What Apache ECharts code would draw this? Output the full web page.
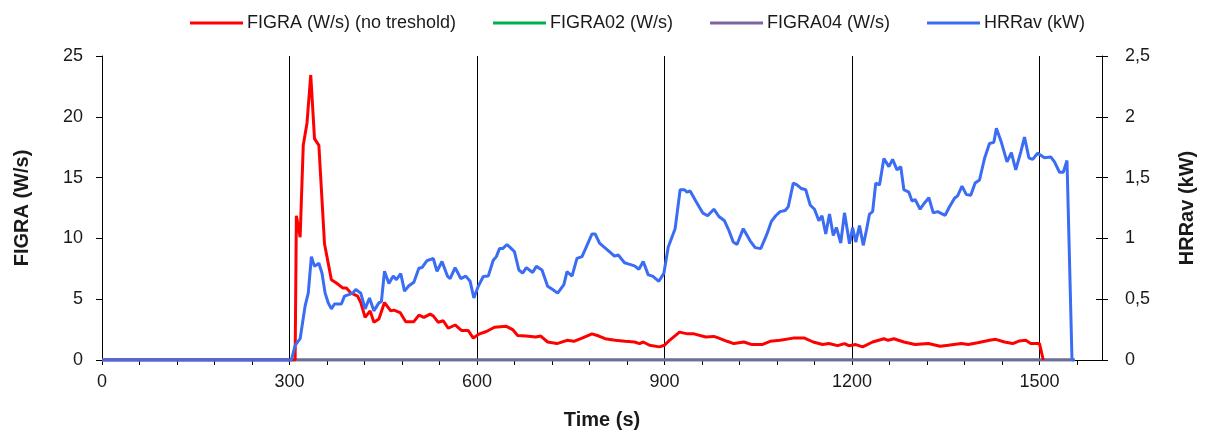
<!DOCTYPE html>
<html>
<head>
<meta charset="utf-8">
<script src="https://cdn.jsdelivr.net/npm/echarts@6/dist/echarts.min.js"></script>
<style>
html,body{margin:0;padding:0;background:#fff;}
#chart{width:1205px;height:435px;}
</style>
</head>
<body>
<div id="chart"></div>
<script>
// ---- Data ----
const seriesNames = ['FIGRA (W/s) (no treshold)', 'FIGRA02 (W/s)', 'FIGRA04 (W/s)', 'HRRav (kW)'];

const figraTime = [0, 309, 311, 313, 317, 322, 328, 334, 337, 340, 347, 356, 367, 375, 385, 391, 398, 409, 414, 421, 429, 435, 443, 452, 462, 467, 477, 486, 499, 507, 515, 525, 530, 538, 546, 554, 565, 575, 586, 594, 604, 615, 628, 647, 657, 665, 678, 694, 702, 713, 728, 744, 755, 768, 784, 795, 805, 821, 837, 852, 860, 866, 876, 892, 900, 908, 924, 937, 947, 966, 979, 987, 1000, 1011, 1027, 1040, 1056, 1069, 1085, 1106, 1124, 1138, 1153, 1163, 1177, 1188, 1195, 1206, 1217, 1233, 1251, 1258, 1267, 1283, 1301, 1322, 1341, 1354, 1375, 1386, 1401, 1420, 1430, 1444, 1457, 1467, 1478, 1486, 1500, 1506];
const figraVals = [0, 0, 11.86, 11.86, 10.1, 17.65, 19.5, 23.44, 23.44, 18.2, 17.65, 9.56, 6.6, 6.33, 5.93, 5.93, 5.52, 5.25, 4.72, 3.5, 4.04, 3.1, 3.37, 4.72, 4.04, 4.1, 3.9, 3.15, 3.15, 3.69, 3.5, 3.77, 3.63, 3.1, 3.23, 2.61, 2.88, 2.43, 2.43, 1.8, 2.15, 2.34, 2.69, 2.77, 2.5, 2.02, 1.97, 1.89, 1.97, 1.48, 1.35, 1.62, 1.54, 1.8, 2.15, 1.97, 1.75, 1.62, 1.54, 1.48, 1.35, 1.48, 1.21, 1.08, 1.21, 1.62, 2.29, 2.15, 2.15, 1.89, 1.94, 1.8, 1.54, 1.35, 1.48, 1.27, 1.27, 1.54, 1.62, 1.8, 1.8, 1.48, 1.27, 1.35, 1.18, 1.35, 1.18, 1.27, 1.08, 1.48, 1.75, 1.62, 1.75, 1.48, 1.27, 1.35, 1.13, 1.21, 1.35, 1.27, 1.42, 1.62, 1.7, 1.48, 1.35, 1.56, 1.62, 1.35, 1.35, 0];

const figra02Time = [0, 1556];
const figra02Vals = [0, 0];
const figra04Time = [0, 1556];
const figra04Vals = [0, 0];

const hrrTime = [0, 303, 309, 317, 325, 330, 335, 340, 347, 352, 357, 362, 367, 372, 383, 388, 396, 401, 406, 414, 421, 428, 431, 435, 443, 447, 452, 459, 466, 471, 478, 484, 491, 499, 507, 512, 520, 530, 536, 544, 553, 557, 565, 574, 582, 589, 595, 602, 610, 618, 626, 631, 636, 641, 648, 655, 660, 667, 673, 679, 689, 695, 704, 713, 721, 729, 739, 744, 752, 760, 768, 776, 784, 789, 796, 802, 810, 820, 826, 836, 842, 852, 859, 866, 874, 881, 891, 899, 906, 917, 925, 932, 936, 941, 950, 961, 969, 972, 979, 987, 996, 1003, 1010, 1016, 1026, 1029, 1037, 1045, 1054, 1064, 1071, 1078, 1085, 1093, 1098, 1106, 1112, 1119, 1126, 1133, 1140, 1147, 1152, 1158, 1164, 1170, 1175, 1182, 1188, 1196, 1201, 1206, 1212, 1218, 1223, 1228, 1233, 1238, 1244, 1251, 1259, 1265, 1272, 1278, 1283, 1291, 1296, 1301, 1309, 1315, 1323, 1330, 1337, 1349, 1356, 1364, 1369, 1376, 1383, 1390, 1397, 1404, 1412, 1420, 1427, 1431, 1439, 1448, 1455, 1462, 1470, 1476, 1483, 1489, 1497, 1508, 1518, 1524, 1532, 1538, 1544, 1546, 1552, 1556];
const hrrVals = [0, 0, 0.12, 0.175, 0.445, 0.55, 0.85, 0.77, 0.795, 0.714, 0.55, 0.47, 0.42, 0.46, 0.46, 0.525, 0.54, 0.55, 0.58, 0.55, 0.42, 0.51, 0.525, 0.404, 0.47, 0.48, 0.73, 0.63, 0.69, 0.66, 0.71, 0.566, 0.61, 0.64, 0.754, 0.76, 0.817, 0.835, 0.73, 0.81, 0.687, 0.67, 0.76, 0.67, 0.69, 0.647, 0.51, 0.606, 0.687, 0.69, 0.82, 0.85, 0.916, 0.916, 0.95, 0.916, 0.89, 0.74, 0.714, 0.76, 0.72, 0.77, 0.74, 0.606, 0.58, 0.55, 0.62, 0.727, 0.69, 0.835, 0.85, 0.943, 1.037, 1.037, 0.962, 0.935, 0.9, 0.854, 0.863, 0.8, 0.79, 0.774, 0.746, 0.81, 0.7, 0.69, 0.647, 0.714, 0.93, 1.08, 1.4, 1.4, 1.38, 1.39, 1.307, 1.21, 1.186, 1.19, 1.24, 1.18, 1.145, 1.065, 0.97, 0.95, 1.08, 1.09, 0.98, 0.924, 0.916, 1.037, 1.14, 1.186, 1.22, 1.23, 1.26, 1.455, 1.44, 1.41, 1.4, 1.275, 1.24, 1.145, 1.186, 1.037, 1.2, 1.024, 1.09, 0.962, 1.21, 0.956, 1.09, 0.97, 1.105, 0.943, 1.065, 1.2, 1.22, 1.455, 1.44, 1.657, 1.59, 1.65, 1.563, 1.59, 1.4, 1.38, 1.307, 1.32, 1.24, 1.285, 1.334, 1.21, 1.22, 1.19, 1.26, 1.33, 1.35, 1.43, 1.36, 1.355, 1.455, 1.48, 1.657, 1.78, 1.79, 1.905, 1.79, 1.63, 1.705, 1.563, 1.71, 1.833, 1.663, 1.65, 1.70, 1.663, 1.67, 1.63, 1.544, 1.544, 1.64, 1.65, 0, 0];

const xTickLabels = [0, 300, 600, 900, 1200, 1500];
const markerTimes = [300, 600, 900, 1200, 1500];
const leftTickLabels = [0, 5, 10, 15, 20, 25];
const rightTickLabels = ['0', '0,5', '1', '1,5', '2', '2,5'];

const axisTitles = { x: 'Time (s)', left: 'FIGRA (W/s)', right: 'HRRav (kW)' };

// ---- Build ----
function pairs(t, v) { return t.map((x, i) => [x, v[i]]); }

const FONT = "'Liberation Sans', Arial, sans-serif";
const TXT = '#1a1a1a';
const colors = ['#ff0000', '#00b050', '#8064a2', '#3a6cf4'];

const chart = echarts.init(document.getElementById('chart'), null, { renderer: 'canvas' });

const option = {
  animation: false,
  color: colors,
  textStyle: { fontFamily: FONT },
  legend: {
    data: seriesNames,
    left: 185,
    top: 9,
    icon: 'rect',
    itemWidth: 53,
    itemHeight: 3,
    itemGap: 37,
    textStyle: { fontFamily: FONT, fontSize: 18, color: TXT, padding: [0, 0, 0, -1] }
  },
  grid: { left: 102, right: 94, top: 56, bottom: 70, containLabel: false },
  xAxis: {
    type: 'value',
    min: 0,
    max: 1600,
    interval: 60,
    name: axisTitles.x,
    nameLocation: 'middle',
    nameGap: 50,
    nameTextStyle: { fontFamily: FONT, fontSize: 20, fontWeight: 'bold', color: TXT },
    axisLine: { show: true, lineStyle: { color: '#000', width: 1 } },
    axisTick: { show: true, inside: false, length: 5, lineStyle: { color: '#000' } },
    axisLabel: {
      fontFamily: FONT, fontSize: 18, color: TXT, margin: 13,
      showMaxLabel: false,
      formatter: v => (xTickLabels.indexOf(v) >= 0 ? String(v) : '')
    },
    splitLine: { show: false }
  },
  yAxis: [
    {
      type: 'value',
      position: 'left',
      min: 0, max: 25, interval: 5,
      name: axisTitles.left,
      nameLocation: 'middle',
      nameRotate: 90,
      nameGap: 70,
      nameTextStyle: { fontFamily: FONT, fontSize: 20, fontWeight: 'bold', color: TXT },
      axisLine: { show: true, lineStyle: { color: '#000', width: 1 } },
      axisTick: { show: true, inside: false, length: 6, lineStyle: { color: '#000' } },
      axisLabel: {
        fontFamily: FONT, fontSize: 18, color: TXT, margin: 19,
        formatter: v => String(leftTickLabels[Math.round(v / 5)])
      },
      splitLine: { show: false }
    },
    {
      type: 'value',
      position: 'right',
      min: 0, max: 2.5, interval: 0.5,
      name: axisTitles.right,
      nameLocation: 'middle',
      nameRotate: 90,
      nameGap: 75,
      nameTextStyle: { fontFamily: FONT, fontSize: 20, fontWeight: 'bold', color: TXT },
      axisLine: { show: true, lineStyle: { color: '#000', width: 1 } },
      axisTick: { show: true, inside: false, length: 6, lineStyle: { color: '#000' } },
      axisLabel: {
        fontFamily: FONT, fontSize: 18, color: TXT, margin: 23,
        formatter: v => rightTickLabels[Math.round(v / 0.5)]
      },
      splitLine: { show: false }
    },
    {
      // inner half of the crossing ticks on the right axis
      type: 'value',
      position: 'right',
      min: 0, max: 2.5, interval: 0.5,
      axisLine: { show: false },
      axisTick: { show: true, inside: true, length: 6, lineStyle: { color: '#000' } },
      axisLabel: { show: false },
      splitLine: { show: false }
    }
  ],
  series: [
    {
      name: seriesNames[0],
      type: 'line',
      yAxisIndex: 0,
      data: pairs(figraTime, figraVals),
      showSymbol: false,
      symbol: 'none',
      lineStyle: { width: 3, color: colors[0] },
      z: 3,
      markLine: {
        silent: true,
        symbol: ['none', 'none'],
        label: { show: false },
        lineStyle: { color: '#000', width: 1, type: 'solid' },
        z: 1,
        data: markerTimes.map(t => ({ xAxis: t }))
      }
    },
    {
      name: seriesNames[1],
      type: 'line',
      yAxisIndex: 0,
      data: pairs(figra02Time, figra02Vals),
      symbol: 'none',
      lineStyle: { width: 3, color: colors[1] },
      z: 2
    },
    {
      name: seriesNames[2],
      type: 'line',
      yAxisIndex: 0,
      data: pairs(figra04Time, figra04Vals),
      symbol: 'none',
      lineStyle: { width: 3, color: colors[2] },
      z: 2
    },
    {
      name: seriesNames[3],
      type: 'line',
      yAxisIndex: 1,
      data: pairs(hrrTime, hrrVals),
      symbol: 'none',
      lineStyle: { width: 3, color: colors[3] },
      z: 4
    }
  ]
};

chart.setOption(option);
</script>
</body>
</html>
